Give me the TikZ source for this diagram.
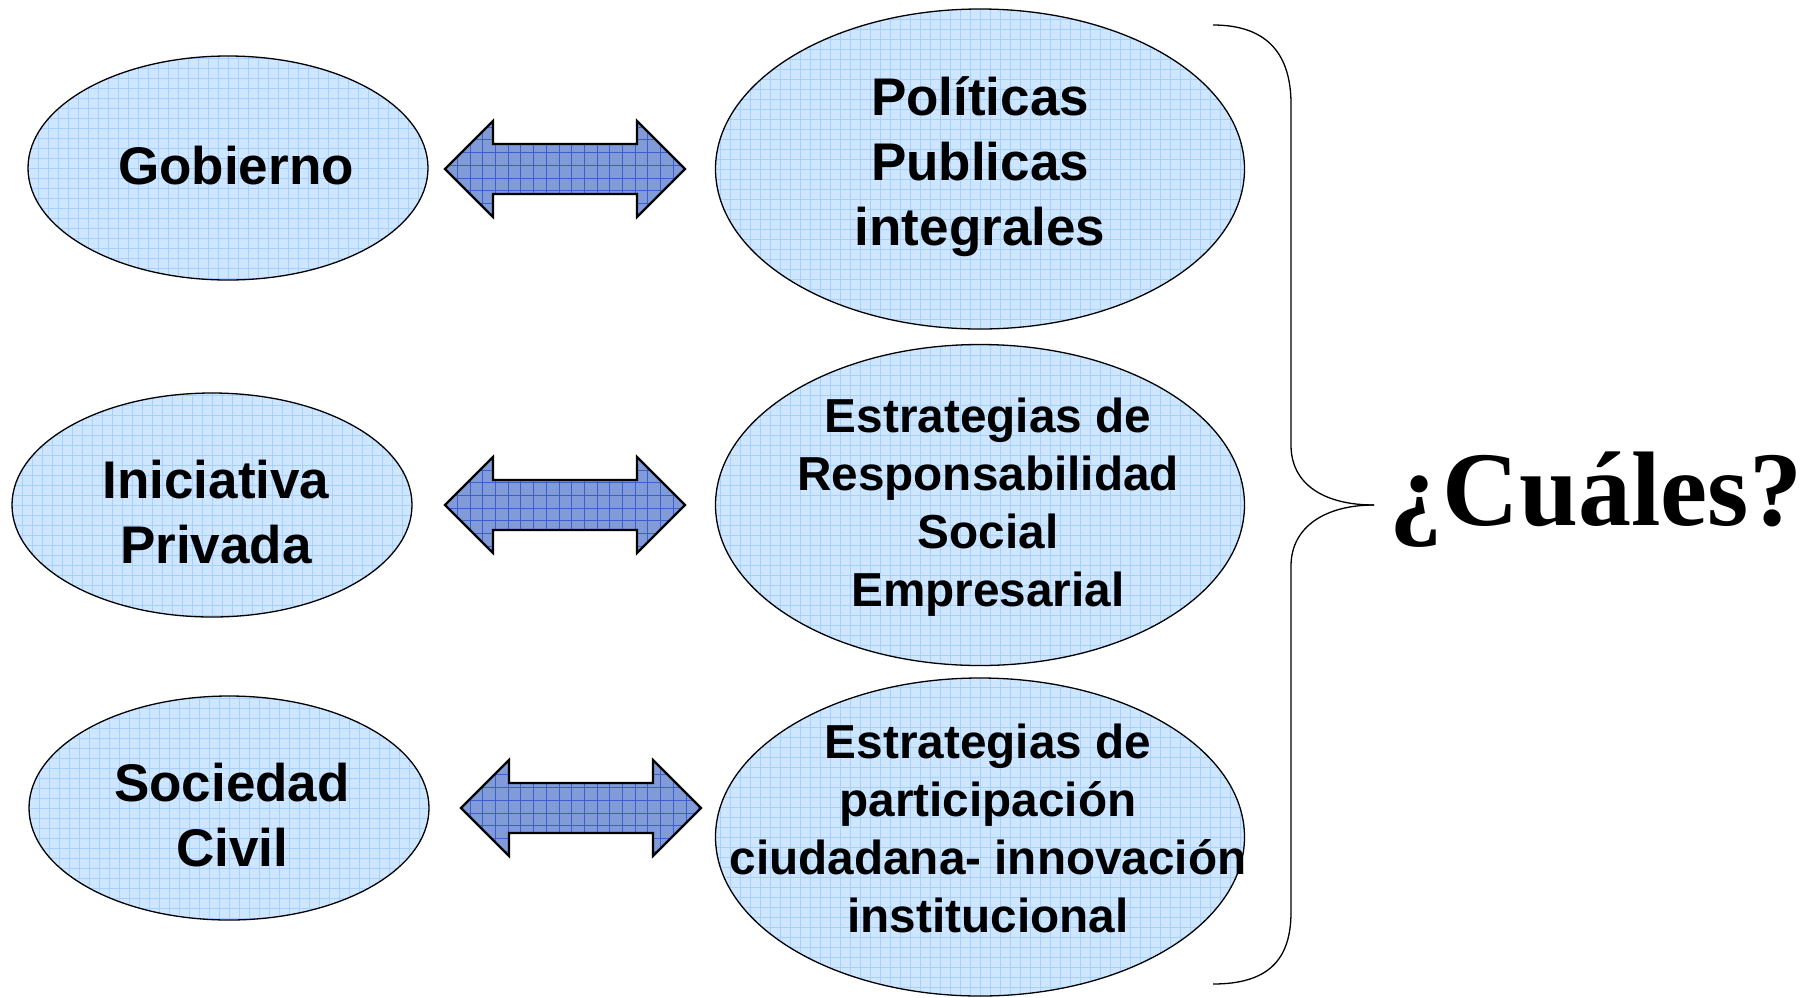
\documentclass[tikz,border=0pt]{standalone}
\usepackage{fontspec}
\setmainfont{Liberation Sans}
\newfontfamily\serifb{Liberation Serif}
\usetikzlibrary{shapes.geometric}
\definecolor{ellfill}{RGB}{206,230,255}
\definecolor{ellgrid}{RGB}{165,208,255}
\definecolor{arrfill}{RGB}{128,155,215}
\definecolor{arrgrid}{RGB}{60,95,205}
\begin{document}
\begin{tikzpicture}[x=1pt,y=-1pt,
  oval/.style={ellipse, draw=black, line width=1.3pt, fill=ellfill, inner sep=0pt,
     path picture={\draw[ellgrid,line width=0.6pt] (path picture bounding box.south west) grid[step=10pt] (path picture bounding box.north east);}},
  lbl/.style={font=\fontsize{53}{65}\selectfont\bfseries, align=center, inner sep=0pt},
  lbls/.style={font=\fontsize{47.7}{58}\selectfont\bfseries, align=center, inner sep=0pt},
  barrow/.style={draw=black, line width=2.2pt, fill=arrfill,
     path picture={\draw[arrgrid,line width=0.6pt] (path picture bounding box.south west) grid[step=12.7pt] (path picture bounding box.north east);}},
  bracel/.style={draw=black, line width=1.3pt}
]
\useasboundingbox (0,0) rectangle (1811,997);
% ellipses
\node[oval, minimum width=400pt, minimum height=224pt] (gob) at (228,168) {};
\node[oval, minimum width=400pt, minimum height=224pt] (ini) at (212,505) {};
\node[oval, minimum width=400pt, minimum height=224pt] (soc) at (229,808) {};
\node[oval, minimum width=529pt, minimum height=320pt] (pol) at (980,169) {};
\node[oval, minimum width=529pt, minimum height=321pt] (rse) at (980,505) {};
\node[oval, minimum width=529pt, minimum height=318pt] (par) at (980,837) {};
% block arrows
\newcommand\blockarrow[2]{%
 \path[barrow] (#1,#2) -- ++(48,-48) -- ++(0,23) -- ++(144,0) -- ++(0,-23) -- ++(48,48) -- ++(-48,48) -- ++(0,-23) -- ++(-144,0) -- ++(0,23) -- cycle;}
\blockarrow{445}{169}
\blockarrow{445}{505}
\blockarrow{461}{808}
% brace
\coordinate (btop) at (1213,25);
\coordinate (btip) at (1374,505);
\coordinate (bbot) at (1213,984);
\draw[bracel] (btop) .. controls (1268,25) and (1291,55) .. (1291,104) -- (1291,445) .. controls (1291,485) and (1325,505) .. (btip);
\draw[bracel] (btip) .. controls (1325,505) and (1291,527) .. (1291,566) -- (1291,912) .. controls (1291,960) and (1268,984) .. (bbot);
% texts
\node[lbl] (tgob) at (236,166) {Gobierno};
\node[lbl] (tini) at (216,512) {Iniciativa\\Privada};
\node[lbl] (tsoc) at (232,815) {Sociedad\\Civil};
\node[lbl] (tpol) at (980,167) {Políticas\\Publicas\\integrales};
\node[lbls] (trse) at (988,507) {Estrategias de\\Responsabilidad\\Social\\Empresarial};
\node[lbls] (tpar) at (988,828) {Estrategias de\\participación\\ciudadana- innovación\\institucional};
\node[font=\serifb\bfseries\fontsize{106}{106}\selectfont, anchor=base, inner sep=0pt] (q) at (1596,525) {¿Cuáles?};
\end{tikzpicture}
\end{document}
